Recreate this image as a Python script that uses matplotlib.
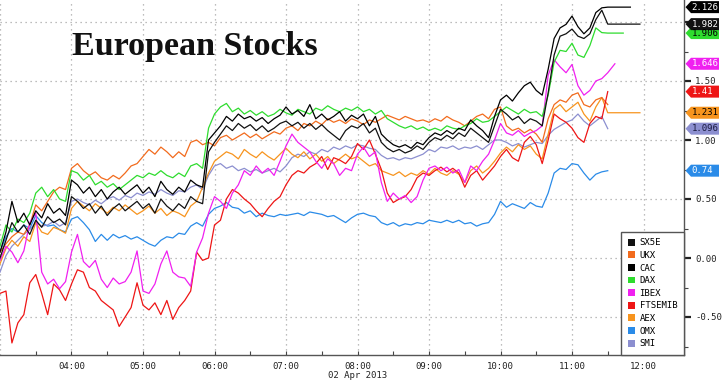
import pandas as pd
import matplotlib
matplotlib.use('Agg')
import matplotlib.pyplot as plt
import matplotlib.dates as mdates
from matplotlib.patches import Polygon, Patch

# 5-minute grid, 03:00 -> 11:30 (103 points)
times = pd.date_range('2013-04-02 03:00', '2013-04-02 11:30', freq='5min')

names = ['SX5E', 'UKX', 'CAC', 'DAX', 'IBEX', 'FTSEMIB', 'AEX', 'OMX', 'SMI']
colors = ['#111111', '#F26B1D', '#000000', '#2EDC2E', '#F020F0', '#EE1515', '#F7941E', '#2A8BE8', '#8C8FD0']

sx5e = [0.00, 0.15, 0.30, 0.22, 0.28, 0.20, 0.32, 0.26, 0.35, 0.30, 0.33, 0.28,
        0.52, 0.48, 0.42, 0.46, 0.38, 0.44, 0.36, 0.42, 0.46, 0.40, 0.44, 0.48,
        0.42, 0.46, 0.38, 0.50, 0.44, 0.40, 0.46, 0.42, 0.52, 0.48, 0.46, 0.90,
        0.98, 1.05, 1.12, 1.08, 1.14, 1.10, 1.13, 1.08, 1.12, 1.07, 1.10, 1.14,
        1.16, 1.12, 1.15, 1.10, 1.14, 1.09, 1.13, 1.08, 1.04, 1.00, 1.08, 1.12,
        1.10, 1.14, 1.06, 1.10, 0.98, 0.93, 0.90, 0.92, 0.89, 0.91, 0.95, 0.92,
        0.98, 1.02, 1.00, 1.04, 1.01, 1.06, 1.03, 1.10, 1.06, 1.02, 0.98, 1.12,
        1.26, 1.22, 1.17, 1.20, 1.14, 1.18, 1.16, 1.12, 1.40, 1.72, 1.88, 1.90,
        1.94, 1.88, 1.86, 1.90, 2.02, 2.10, 1.982]
ukx = [0.05, 0.12, 0.18, 0.22, 0.20, 0.28, 0.45, 0.40, 0.48, 0.56, 0.60, 0.58,
       0.76, 0.80, 0.74, 0.70, 0.73, 0.68, 0.66, 0.70, 0.67, 0.72, 0.78, 0.80,
       0.86, 0.92, 0.88, 0.94, 0.90, 0.85, 0.90, 0.86, 0.98, 1.00, 0.96, 0.98,
       0.95, 1.02, 1.04, 1.00, 1.03, 1.06, 1.02, 1.05, 1.01, 1.04, 1.07, 1.05,
       1.10, 1.12, 1.08, 1.14, 1.12, 1.16, 1.13, 1.18, 1.15, 1.17, 1.14, 1.18,
       1.16, 1.13, 1.17, 1.15, 1.18, 1.21, 1.19, 1.17, 1.20, 1.18, 1.16, 1.17,
       1.15, 1.18, 1.16, 1.20, 1.17, 1.15, 1.12, 1.16, 1.20, 1.22, 1.18, 1.26,
       1.28, 1.12, 1.08, 1.10, 1.06, 1.09, 1.05, 0.98, 1.18, 1.30, 1.34, 1.32,
       1.38, 1.40, 1.30, 1.28, 1.34, 1.36, 1.30]
cac = [0.05, 0.22, 0.48, 0.30, 0.38, 0.28, 0.40, 0.34, 0.46, 0.38, 0.42, 0.36,
       0.66, 0.62, 0.55, 0.60, 0.52, 0.58, 0.50, 0.56, 0.60, 0.54, 0.58, 0.62,
       0.55, 0.60, 0.52, 0.65, 0.58, 0.54, 0.60, 0.56, 0.66, 0.62, 0.60, 1.00,
       1.06, 1.12, 1.20, 1.16, 1.22, 1.18, 1.20, 1.16, 1.19, 1.14, 1.18, 1.21,
       1.28, 1.22, 1.25, 1.20, 1.30, 1.18, 1.22, 1.17, 1.20, 1.24, 1.16, 1.21,
       1.18, 1.22, 1.12, 1.20, 1.05, 1.00, 0.96, 0.94, 0.96, 0.93, 0.98, 0.96,
       1.02, 1.06, 1.04, 1.08, 1.05, 1.10, 1.08, 1.17, 1.12, 1.08, 1.02, 1.20,
       1.34, 1.38, 1.33, 1.40, 1.46, 1.49, 1.42, 1.38, 1.60, 1.86, 1.95, 1.98,
       2.05, 1.96, 1.90, 1.95, 2.08, 2.12, 2.126]
dax = [0.10, 0.28, 0.22, 0.33, 0.30, 0.38, 0.55, 0.60, 0.52, 0.58, 0.50, 0.48,
       0.74, 0.72, 0.66, 0.70, 0.62, 0.65, 0.60, 0.63, 0.58, 0.62, 0.66, 0.70,
       0.68, 0.72, 0.70, 0.74, 0.70, 0.68, 0.72, 0.69, 0.78, 0.80, 0.76, 1.10,
       1.22, 1.28, 1.31, 1.24, 1.27, 1.22, 1.25, 1.21, 1.24, 1.20, 1.22, 1.26,
       1.23, 1.21, 1.26, 1.24, 1.22, 1.27, 1.25, 1.29, 1.26, 1.24, 1.27, 1.25,
       1.28, 1.24, 1.26, 1.22, 1.25, 1.18, 1.15, 1.12, 1.10, 1.12, 1.09, 1.11,
       1.08, 1.10, 1.08, 1.12, 1.10, 1.09, 1.12, 1.14, 1.18, 1.15, 1.16, 1.20,
       1.24, 1.28, 1.25, 1.22, 1.26, 1.23, 1.24, 1.20, 1.38, 1.66, 1.76, 1.75,
       1.82, 1.72, 1.70, 1.80, 1.95, 1.91, 1.906]
ibex = [-0.02, 0.10, 0.05, -0.04, 0.06, 0.30, 0.38, -0.12, -0.22, -0.18, -0.26, -0.20,
        0.05, 0.20, -0.03, -0.08, -0.02, -0.18, -0.25, -0.17, -0.22, -0.20, -0.12, 0.06,
        -0.28, -0.30, -0.22, -0.05, 0.06, -0.12, -0.16, -0.17, -0.24, 0.05, 0.17, 0.38,
        0.52, 0.48, 0.42, 0.55, 0.62, 0.74, 0.70, 0.78, 0.72, 0.76, 0.70, 0.82,
        0.95, 1.05, 0.98, 0.94, 0.90, 0.82, 0.76, 0.84, 0.80, 0.70, 0.76, 0.74,
        0.88, 0.94, 0.86, 0.90, 0.64, 0.48, 0.55, 0.50, 0.53, 0.47, 0.52, 0.66,
        0.76, 0.78, 0.74, 0.77, 0.72, 0.75, 0.64, 0.78, 0.74, 0.82, 0.88, 1.00,
        1.14, 1.06, 1.04, 1.08, 1.03, 1.06, 1.08, 1.12, 1.55, 1.68, 1.62, 1.57,
        1.64, 1.46, 1.38, 1.42, 1.50, 1.52, 1.57]
ftsemib = [-0.30, -0.28, -0.72, -0.55, -0.48, -0.21, -0.14, -0.30, -0.48, -0.22, -0.27, -0.36,
           -0.22, -0.10, -0.12, -0.25, -0.28, -0.36, -0.40, -0.44, -0.58, -0.50, -0.42, -0.21,
           -0.40, -0.44, -0.38, -0.48, -0.36, -0.52, -0.42, -0.36, -0.28, 0.05, -0.02, 0.00,
           0.28, 0.32, 0.50, 0.58, 0.55, 0.50, 0.46, 0.40, 0.35, 0.42, 0.48, 0.52,
           0.62, 0.70, 0.74, 0.72, 0.77, 0.80, 0.86, 0.75, 0.85, 0.83, 0.80, 0.86,
           0.97, 0.92, 1.00, 0.88, 0.75, 0.55, 0.47, 0.50, 0.52, 0.58, 0.68, 0.72,
           0.70, 0.74, 0.77, 0.73, 0.76, 0.72, 0.60, 0.70, 0.74, 0.66, 0.72, 0.78,
           0.86, 0.92, 0.85, 0.82, 0.98, 1.03, 0.96, 0.80, 1.00, 1.22, 1.18, 1.15,
           1.10, 1.02, 0.98, 1.14, 1.20, 1.18, 1.41]
aex = [-0.05, 0.08, 0.15, 0.10, 0.18, 0.14, 0.30, 0.22, 0.20, 0.26, 0.24, 0.21,
       0.42, 0.48, 0.44, 0.40, 0.46, 0.42, 0.38, 0.43, 0.40, 0.45, 0.41, 0.37,
       0.40, 0.44, 0.38, 0.42, 0.36, 0.40, 0.38, 0.35, 0.44, 0.48, 0.60, 0.72,
       0.82, 0.86, 0.90, 0.88, 0.84, 0.92, 0.88, 0.85, 0.90, 0.86, 0.83, 0.88,
       0.93, 0.88, 0.85, 0.90, 0.84, 0.88, 0.82, 0.86, 0.80, 0.84, 0.88, 0.84,
       0.86, 0.82, 0.78, 0.80, 0.74, 0.72, 0.70, 0.73, 0.69, 0.72, 0.70, 0.74,
       0.71, 0.76, 0.72, 0.70, 0.74, 0.71, 0.64, 0.74, 0.78, 0.72, 0.76, 0.82,
       0.89, 0.94, 0.90, 0.96, 0.92, 0.95, 0.88, 0.84, 1.05, 1.26, 1.30, 1.24,
       1.28, 1.32, 1.22, 1.16, 1.28, 1.36, 1.231]
omx = [0.05, 0.18, 0.25, 0.22, 0.28, 0.25, 0.36, 0.30, 0.27, 0.28, 0.24, 0.22,
       0.33, 0.35, 0.30, 0.24, 0.14, 0.20, 0.15, 0.20, 0.17, 0.19, 0.16, 0.18,
       0.15, 0.12, 0.10, 0.15, 0.18, 0.17, 0.21, 0.20, 0.27, 0.30, 0.27, 0.37,
       0.42, 0.44, 0.47, 0.43, 0.42, 0.38, 0.40, 0.35, 0.38, 0.36, 0.35, 0.37,
       0.36, 0.37, 0.38, 0.36, 0.39, 0.38, 0.37, 0.35, 0.36, 0.33, 0.30, 0.34,
       0.37, 0.38, 0.36, 0.35, 0.30, 0.28, 0.30, 0.27, 0.29, 0.28, 0.30, 0.29,
       0.32, 0.31, 0.30, 0.32, 0.30, 0.32, 0.29, 0.30, 0.27, 0.29, 0.30, 0.37,
       0.48, 0.43, 0.46, 0.44, 0.42, 0.47, 0.44, 0.43, 0.55, 0.72, 0.76, 0.75,
       0.80, 0.79, 0.72, 0.66, 0.71, 0.73, 0.74]
smi = [-0.12, 0.02, 0.10, 0.15, 0.20, 0.24, 0.30, 0.27, 0.28, 0.31, 0.27, 0.30,
       0.48, 0.50, 0.47, 0.45, 0.49, 0.46, 0.50, 0.52, 0.49, 0.53, 0.51, 0.55,
       0.53, 0.56, 0.54, 0.58, 0.55, 0.53, 0.57, 0.56, 0.60, 0.62, 0.58, 0.70,
       0.78, 0.80, 0.76, 0.78, 0.74, 0.76, 0.73, 0.75, 0.72, 0.74, 0.76, 0.73,
       0.78, 0.85, 0.88, 0.86, 0.90, 0.88, 0.92, 0.90, 0.94, 0.92, 0.95, 0.93,
       0.96, 0.95, 0.93, 0.92, 0.87, 0.84, 0.85, 0.83, 0.85, 0.84, 0.86, 0.88,
       0.92, 0.90, 0.94, 0.93, 0.95, 0.92, 0.94, 0.93, 0.95, 0.92, 0.96, 1.00,
       1.00, 0.98, 0.95, 0.97, 0.94, 0.96, 0.98, 0.97, 1.04, 1.09, 1.12, 1.15,
       1.17, 1.22, 1.16, 1.12, 1.16, 1.20, 1.096]

series = [sx5e, ukx, cac, dax, ibex, ftsemib, aex, omx, smi]

# last-value tags on the right axis and where the line is carried on to
tag_value = [1.982, None, 2.126, 1.906, 1.646, 1.41, 1.231, 0.74, 1.096]
tag_text_color = ['white', None, 'white', 'black', 'white', 'white', 'black', 'white', '#1a1a40']
tail_time = ['11:57', None, '11:49', '11:43', '11:36', None, '11:57', None, None]

mono = 'DejaVu Sans Mono'
fs = 6.5

fig = plt.figure(figsize=(7.22, 3.82), dpi=100)
ax_pos = [0, 1 - 355 / 382, 684 / 722, 355 / 382]
ax = fig.add_axes(ax_pos)

draw_order = [7, 8, 6, 1, 5, 4, 3, 0, 2]
for i in draw_order:
    t = list(times)
    v = list(series[i])
    if tail_time[i] is not None:
        t.append(pd.Timestamp('2013-04-02 ' + tail_time[i]))
        v.append(tag_value[i])
    ax.plot(t, v, color=colors[i], lw=0.9, zorder=3)

t0 = pd.Timestamp('2013-04-02 03:00')
ax.set_xlim(t0, t0 + pd.Timedelta(hours=684 / 71.5))
ax.set_ylim(-(355 - 258) / 118, (258 / 118))

# grid
grid_kw = dict(color='#a8a8a8', lw=0.9, linestyle=(0, (1, 3)), zorder=1)
for y in [-0.5, 0.0, 0.5, 1.0, 1.5, 2.0]:
    ax.axhline(y, **grid_kw)
for h in range(3, 13):
    ax.axvline(pd.Timestamp('2013-04-02') + pd.Timedelta(hours=h), clip_on=False, **grid_kw)

ax.xaxis.set_major_locator(mdates.HourLocator(byhour=range(4, 13)))
ax.xaxis.set_minor_locator(mdates.MinuteLocator(byminute=[30]))
ax.xaxis.set_major_formatter(mdates.DateFormatter('%H:%M'))
ax.tick_params(axis='x', which='both', direction='in', length=3, width=0.8,
               color='#444444', labelsize=fs, pad=5, labelcolor='#222222')

ax.yaxis.tick_right()
ax.set_yticks([-0.5, 0.0, 0.5, 1.0, 1.5, 2.0])
# the 2.00 label sits under the value tags, so it is left blank
ax.set_yticklabels(['-0.50', '0.00', '0.50', '1.00', '1.50', ''])
ax.set_yticks([-0.75, -0.25, 0.25, 0.75, 1.25, 1.75], minor=True)
ax.tick_params(axis='y', which='major', direction='out', length=5, width=1.6,
               color='#222222', labelsize=fs, pad=3, labelcolor='#222222')
ax.tick_params(axis='y', which='minor', direction='out', length=3, width=0.8, color='#444444')
for lab in ax.get_xticklabels() + ax.get_yticklabels():
    lab.set_family(mono)

for s in ['top', 'left']:
    ax.spines[s].set_visible(False)
for s in ['right', 'bottom']:
    ax.spines[s].set_color('#555555')
    ax.spines[s].set_linewidth(1.0)

fig.text(358 / 722, 1 - 376 / 382, '02 Apr 2013', ha='center', va='center',
         fontsize=fs, family=mono, color='#222222')

fig.text(72 / 722, 1 - 55 / 382, 'European Stocks', family='Liberation Serif',
         fontweight='bold', fontsize=24.5, va='baseline', color='#111111')

handles = [Patch(facecolor=c, edgecolor='none') for c in colors]
leg = ax.legend(handles, names, loc='lower right', bbox_to_anchor=(1, 0),
                borderaxespad=0, fancybox=False, framealpha=1, edgecolor='#555555',
                prop={'family': mono, 'size': fs}, handlelength=0.8, handleheight=0.8,
                handletextpad=0.5, labelspacing=0.4, borderpad=0.75)
leg.get_frame().set_linewidth(1.0)
leg.set_zorder(5)

# value tags to the right of the axis
tag_ax = fig.add_axes([684 / 722, ax_pos[1], 38 / 722, ax_pos[3]])
tag_ax.set_xlim(0, 38)
tag_ax.set_ylim(ax.get_ylim())
tag_ax.axis('off')
hh = 6.0 / 118
for i in [7, 8, 6, 5, 4, 3, 0, 2]:
    v = tag_value[i]
    poly = Polygon([(1.5, v), (7, v + hh), (35, v + hh), (35, v - hh), (7, v - hh)],
                   closed=True, facecolor=colors[i], edgecolor='none')
    tag_ax.add_patch(poly)
    tag_ax.text(7.5, v, ('%g' % v), ha='left', va='center', fontsize=fs,
                family=mono, color=tag_text_color[i])

fig.savefig('out.png', dpi=100)
